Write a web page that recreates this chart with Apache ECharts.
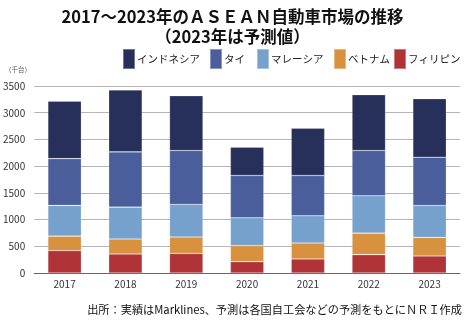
<!DOCTYPE html>
<html>
<head>
<meta charset="utf-8">
<script src="https://cdn.jsdelivr.net/npm/echarts@6/dist/echarts.min.js"></script>
<style>
  html, body { margin: 0; padding: 0; background: #fff; }
  #chart { width: 465px; height: 322px; }
</style>
</head>
<body>
<div id="chart"></div>
<script>
// 年別カテゴリ
const years = ['2017', '2018', '2019', '2020', '2021', '2022', '2023'];

// 国別販売台数（千台）
const philippines = [420, 355, 365, 212, 262, 343, 318];
const vietnam     = [270, 280, 308, 299, 299, 404, 348];
const malaysia    = [575, 598, 610, 523, 510, 698, 598];
const thailand    = [875, 1034, 1009, 791, 754, 847, 903];
const indonesia   = [1075, 1158, 1027, 529, 884, 1046, 1096];

const yTicks = [0, 500, 1000, 1500, 2000, 2500, 3000, 3500];

const FONT = '"Noto Sans CJK JP", "Noto Sans", sans-serif';

// 下から積み上げる順序
const stack = [
  { name: 'フィリピン', data: philippines, color: '#b03338' },
  { name: 'ベトナム', data: vietnam, color: '#d8913f' },
  { name: 'マレーシア', data: malaysia, color: '#77a1cd' },
  { name: 'タイ', data: thailand, color: '#4a5e9c' },
  { name: 'インドネシア', data: indonesia, color: '#27305a' }
];

// 凡例の並び（左から）と各項目の左端位置
const legendOrder = ['インドネシア', 'タイ', 'マレーシア', 'ベトナム', 'フィリピン'];
const legendLeft = [122, 209, 256, 333, 393];

const chart = echarts.init(document.getElementById('chart'), null, { renderer: 'canvas' });

chart.setOption({
  backgroundColor: '#fff',
  animation: false,
  textStyle: { fontFamily: FONT },
  title: {
    text: '2017～2023年のＡＳＥＡＮ自動車市場の推移\n（2023年は予測値）',
    left: 'center',
    top: 2,
    textStyle: {
      fontFamily: FONT,
      fontSize: 16.5,
      fontWeight: 'bold',
      color: '#111',
      lineHeight: 20
    }
  },
  legend: legendOrder.map((name, i) => ({
    data: [name],
    left: legendLeft[i],
    top: 48,
    padding: 0,
    itemWidth: 12,
    itemHeight: 20,
    itemGap: 0,
    icon: 'rect',
    selectedMode: false,
    textStyle: { fontFamily: FONT, fontSize: 10.5, color: '#222', padding: [0, 0, 0, -3] }
  })),
  grid: { left: 32, right: 5, top: 86, bottom: 49, containLabel: false },
  xAxis: {
    type: 'category',
    data: years,
    axisTick: { show: false },
    axisLine: { lineStyle: { color: '#666', width: 1 } },
    axisLabel: { fontFamily: FONT, fontSize: 10, color: '#333', margin: 6 }
  },
  yAxis: {
    type: 'value',
    min: yTicks[0],
    max: yTicks[yTicks.length - 1],
    interval: 500,
    axisLine: { show: false },
    axisTick: { show: false },
    splitLine: { lineStyle: { color: '#b5b5b5', width: 1 } },
    axisLabel: {
      fontFamily: FONT, fontSize: 10, color: '#333', margin: 9,
      formatter: v => String(v)
    }
  },
  series: stack.map(s => ({
    name: s.name,
    type: 'bar',
    stack: 'total',
    barWidth: '55%',
    data: s.data,
    itemStyle: { color: s.color, borderColor: 'rgba(255,255,255,0.35)', borderWidth: 0.6 }
  })),
  graphic: [
    {
      type: 'text',
      left: 5,
      top: 66,
      style: { text: '（千台）', fontFamily: FONT, fontSize: 6.5, fill: '#555' }
    },
    {
      type: 'text',
      right: 3,
      top: 304,
      style: {
        text: '出所：実績はMarklines、予測は各国自工会などの予測をもとにＮＲＩ作成',
        fontFamily: FONT,
        fontSize: 11.2,
        fill: '#111'
      }
    }
  ]
});
</script>
</body>
</html>
